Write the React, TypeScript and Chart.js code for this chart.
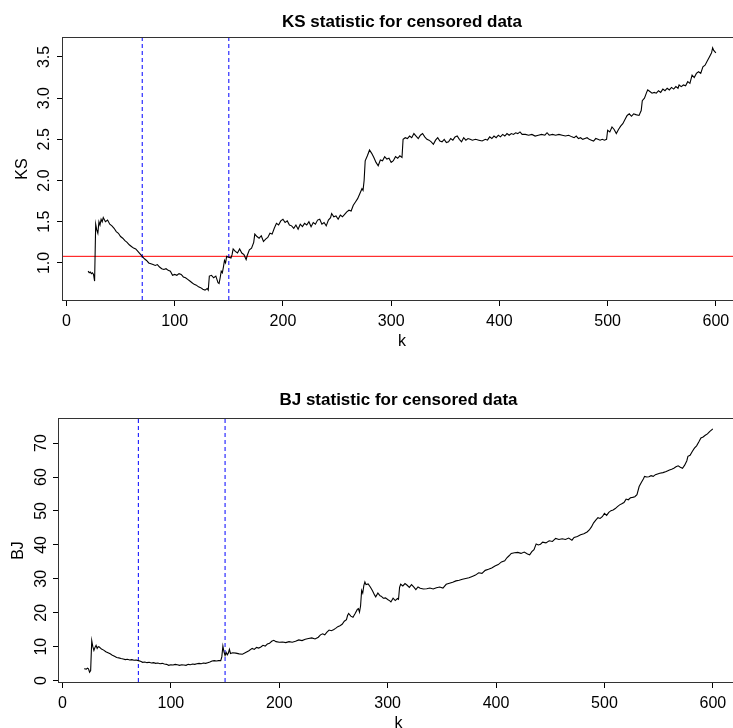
import React, { useEffect, useRef } from "react";
import { Chart, registerables } from "chart.js";

Chart.register(...registerables);

// ---------- data ----------
const kTicks = [0, 100, 200, 300, 400, 500, 600];
const ksTicks = [1.0, 1.5, 2.0, 2.5, 3.0, 3.5];
const bjTicks = [0, 10, 20, 30, 40, 50, 60, 70];
const markerK = [70, 150];
const ksCutoff = 1.08;

const ksSeries: [number, number][] = [
  [20, 0.9], [21, 0.88], [22, 0.89], [23, 0.87], [24, 0.88], [25, 0.86], [26, 0.78], [27, 1.47],
  [28, 1.4], [29, 1.36], [30, 1.5], [31, 1.46], [32, 1.53], [33, 1.5], [34, 1.55], [36, 1.5],
  [38, 1.52], [40, 1.47], [42, 1.45], [44, 1.42], [46, 1.38], [48, 1.36], [50, 1.32], [52, 1.3],
  [54, 1.27], [56, 1.25], [58, 1.22], [60, 1.2], [62, 1.18], [64, 1.17], [66, 1.14], [68, 1.11],
  [70, 1.08], [72, 1.05], [74, 1.03], [76, 1.0], [78, 0.99], [80, 0.98], [82, 0.97], [84, 0.98],
  [86, 0.95], [88, 0.93], [90, 0.92], [92, 0.93], [94, 0.91], [96, 0.9], [98, 0.85], [100, 0.86],
  [102, 0.85], [104, 0.87], [106, 0.86], [108, 0.83], [110, 0.82], [112, 0.8], [114, 0.78], [116, 0.76],
  [118, 0.74], [120, 0.73], [122, 0.71], [124, 0.7], [126, 0.68], [128, 0.67], [130, 0.69], [131, 0.67],
  [132, 0.84], [134, 0.85], [136, 0.82], [138, 0.84], [139, 0.8], [140, 0.76], [141, 0.75], [142, 0.82],
  [143, 0.9], [144, 0.88], [145, 0.95], [146, 1.03], [147, 1.0], [148, 1.08], [150, 1.07], [152, 1.06],
  [153, 1.1], [154, 1.17], [156, 1.14], [158, 1.12], [160, 1.17], [162, 1.12], [164, 1.1], [166, 1.04],
  [167, 1.09], [169, 1.16], [171, 1.18], [173, 1.25], [174, 1.35], [176, 1.32], [178, 1.3], [180, 1.33],
  [182, 1.26], [184, 1.29], [186, 1.31], [188, 1.36], [190, 1.35], [192, 1.42], [194, 1.48], [196, 1.46],
  [198, 1.51], [200, 1.53], [202, 1.49], [204, 1.51], [206, 1.46], [208, 1.45], [210, 1.42], [212, 1.46],
  [214, 1.41], [216, 1.47], [218, 1.44], [220, 1.48], [222, 1.46], [224, 1.5], [226, 1.44], [228, 1.49],
  [230, 1.47], [232, 1.52], [234, 1.53], [236, 1.47], [238, 1.49], [240, 1.45], [242, 1.52], [244, 1.55],
  [245, 1.6], [247, 1.56], [249, 1.57], [251, 1.53], [253, 1.58], [255, 1.56], [257, 1.59], [259, 1.62],
  [261, 1.64], [263, 1.63], [265, 1.7], [267, 1.74], [269, 1.78], [271, 1.84], [273, 1.9], [274, 1.88],
  [275, 2.0], [276, 2.24], [278, 2.3], [280, 2.37], [282, 2.33], [284, 2.28], [286, 2.22], [288, 2.18],
  [290, 2.25], [292, 2.24], [294, 2.29], [296, 2.26], [298, 2.27], [300, 2.22], [302, 2.24], [304, 2.29],
  [306, 2.27], [308, 2.3], [310, 2.28], [311, 2.5], [313, 2.52], [315, 2.51], [317, 2.54], [319, 2.52],
  [321, 2.57], [323, 2.54], [325, 2.51], [327, 2.55], [329, 2.57], [331, 2.53], [333, 2.5], [335, 2.49],
  [337, 2.47], [339, 2.44], [341, 2.49], [343, 2.52], [345, 2.48], [347, 2.47], [349, 2.5], [351, 2.46],
  [353, 2.47], [355, 2.51], [357, 2.49], [359, 2.53], [361, 2.54], [363, 2.5], [365, 2.47], [367, 2.52],
  [369, 2.49], [371, 2.51], [373, 2.5], [375, 2.49], [378, 2.5], [381, 2.49], [384, 2.48], [387, 2.5],
  [389, 2.49], [391, 2.53], [393, 2.51], [395, 2.54], [397, 2.52], [399, 2.55], [401, 2.53], [403, 2.56],
  [405, 2.54], [407, 2.57], [409, 2.55], [411, 2.57], [413, 2.56], [415, 2.58], [417, 2.57], [419, 2.59],
  [421, 2.56], [424, 2.56], [427, 2.55], [430, 2.56], [433, 2.54], [436, 2.55], [439, 2.56], [442, 2.55],
  [444, 2.58], [446, 2.55], [449, 2.56], [452, 2.55], [455, 2.56], [458, 2.55], [461, 2.54], [464, 2.55],
  [467, 2.53], [469, 2.52], [471, 2.54], [473, 2.51], [475, 2.52], [477, 2.5], [479, 2.51], [481, 2.52],
  [483, 2.5], [485, 2.49], [487, 2.48], [489, 2.51], [491, 2.5], [493, 2.49], [495, 2.5], [497, 2.49],
  [499, 2.5], [500, 2.61], [502, 2.59], [504, 2.65], [506, 2.62], [508, 2.57], [510, 2.62], [512, 2.66],
  [514, 2.69], [516, 2.74], [518, 2.79], [520, 2.81], [522, 2.78], [524, 2.81], [526, 2.8], [529, 2.79],
  [531, 2.85], [532, 2.97], [534, 3.0], [536, 3.07], [537, 3.1], [539, 3.08], [541, 3.06], [543, 3.07],
  [545, 3.06], [547, 3.09], [549, 3.07], [551, 3.11], [553, 3.09], [555, 3.12], [557, 3.1], [559, 3.13],
  [561, 3.11], [563, 3.14], [565, 3.12], [566, 3.16], [568, 3.14], [570, 3.16], [572, 3.15], [574, 3.2],
  [576, 3.18], [578, 3.28], [580, 3.25], [582, 3.3], [584, 3.32], [586, 3.3], [588, 3.38], [590, 3.4],
  [592, 3.45], [594, 3.5], [596, 3.55], [597, 3.61], [598, 3.58], [600, 3.55],
];

const bjSeries: [number, number][] = [
  [20, 3.5], [22, 3.4], [23, 3.7], [24, 3.5], [25, 2.5], [26, 3.0], [27, 11.8], [28, 10.0],
  [29, 8.9], [30, 9.8], [31, 10.4], [32, 9.5], [33, 10.0], [34, 9.9], [36, 9.3], [38, 9.0],
  [40, 8.5], [42, 8.2], [44, 7.9], [46, 7.5], [48, 7.2], [50, 6.8], [52, 6.7], [54, 6.5],
  [56, 6.4], [58, 6.2], [60, 6.3], [62, 6.1], [64, 6.2], [66, 6.0], [68, 6.1], [70, 5.9],
  [72, 5.7], [74, 5.4], [76, 5.5], [78, 5.3], [80, 5.4], [82, 5.2], [84, 5.3], [86, 5.1],
  [88, 5.2], [90, 5.0], [92, 5.1], [94, 4.9], [96, 4.8], [98, 4.5], [100, 4.7], [102, 4.6],
  [104, 4.8], [106, 4.7], [108, 4.5], [110, 4.7], [112, 4.6], [114, 4.5], [116, 4.8], [118, 4.7],
  [120, 4.9], [122, 4.8], [124, 5.0], [126, 5.1], [128, 5.0], [130, 5.2], [132, 5.1], [134, 5.3],
  [136, 5.5], [138, 5.8], [140, 5.9], [142, 5.8], [144, 5.9], [146, 5.9], [147, 7.0], [148, 10.2],
  [149, 8.5], [150, 7.4], [151, 8.3], [152, 7.6], [153, 8.1], [154, 9.2], [155, 8.0], [157, 8.2],
  [160, 8.1], [163, 7.9], [166, 7.8], [169, 8.3], [172, 8.8], [175, 9.5], [177, 9.2], [179, 9.8],
  [181, 9.6], [183, 9.9], [185, 10.4], [187, 10.2], [189, 10.8], [191, 11.0], [193, 11.6], [195, 11.9],
  [197, 11.5], [200, 11.3], [203, 11.4], [206, 11.2], [209, 11.5], [212, 11.3], [215, 11.6], [218, 12.0],
  [221, 11.8], [224, 12.2], [227, 12.4], [230, 12.6], [233, 12.3], [236, 12.8], [238, 13.5], [240, 13.8],
  [242, 13.5], [244, 14.3], [246, 14.9], [248, 14.7], [250, 15.0], [252, 15.4], [254, 15.9], [256, 16.2],
  [258, 16.6], [260, 17.5], [262, 18.0], [263, 19.2], [264, 19.8], [266, 19.0], [268, 18.7], [270, 19.8],
  [272, 21.0], [273, 21.2], [274, 20.2], [275, 22.0], [276, 26.6], [277, 25.8], [278, 28.0], [279, 29.1],
  [280, 28.3], [282, 28.5], [284, 27.6], [286, 26.5], [288, 25.2], [289, 24.7], [291, 25.8], [293, 25.0],
  [294, 24.9], [296, 24.3], [298, 24.4], [300, 23.9], [302, 23.5], [303, 23.2], [305, 24.3], [307, 23.6],
  [309, 24.2], [310, 24.0], [311, 27.5], [312, 28.4], [314, 27.9], [316, 28.6], [318, 28.1], [320, 27.5],
  [322, 28.3], [324, 27.6], [326, 26.8], [328, 27.6], [330, 27.2], [333, 27.0], [336, 27.1], [339, 27.3],
  [342, 27.0], [345, 27.4], [348, 27.6], [351, 27.3], [354, 28.4], [357, 28.7], [360, 29.0], [363, 29.4],
  [366, 29.6], [369, 29.9], [372, 30.1], [375, 30.3], [378, 30.7], [381, 31.1], [384, 31.8], [387, 31.6],
  [390, 32.5], [393, 32.8], [396, 33.2], [399, 33.8], [402, 34.2], [405, 35.0], [408, 35.3], [410, 36.2],
  [412, 36.8], [414, 37.5], [417, 37.7], [420, 37.8], [423, 37.5], [426, 37.9], [429, 37.3], [431, 37.1],
  [433, 38.0], [435, 38.6], [437, 40.3], [439, 40.0], [441, 40.2], [443, 40.8], [446, 40.6], [449, 41.2],
  [452, 41.0], [455, 41.9], [458, 41.6], [461, 41.8], [464, 41.6], [467, 42.0], [470, 41.4], [472, 42.2],
  [475, 42.5], [478, 43.0], [481, 43.3], [484, 43.8], [486, 44.4], [488, 45.3], [490, 46.5], [492, 47.3],
  [494, 48.0], [496, 47.8], [498, 48.3], [500, 49.3], [502, 48.7], [504, 49.6], [506, 50.1], [508, 50.3],
  [510, 50.7], [512, 51.3], [514, 51.8], [516, 52.1], [518, 52.5], [520, 53.5], [522, 53.3], [524, 53.9],
  [526, 54.0], [528, 54.2], [530, 54.8], [532, 57.2], [534, 58.4], [536, 59.5], [537, 60.2], [539, 60.0],
  [541, 60.1], [543, 60.4], [545, 60.2], [547, 60.7], [549, 60.9], [551, 61.1], [554, 61.3], [557, 61.6],
  [560, 62.1], [562, 62.3], [564, 62.6], [566, 63.0], [568, 63.3], [570, 62.9], [572, 62.6], [574, 63.5],
  [576, 64.8], [577, 66.1], [579, 66.4], [581, 67.5], [583, 68.5], [585, 69.2], [587, 70.3], [589, 71.5],
  [591, 71.8], [593, 72.3], [595, 72.7], [597, 73.4], [600, 74.2],
];

// ---------- chart helpers ----------
const FONT = "'Liberation Sans', Arial, Helvetica, sans-serif";

type Panel = {
  title: string;
  yTitle: string;
  series: [number, number][];
  yTicks: number[];
  fmt: (v: number) => string;
  xMin: number;
  xMax: number;
  yMin: number;
  yMax: number;
  hline: number | null;
  width: number;
  height: number;
  yAxisW: number;
  xAxisH: number;
  titlePadTop: number;
  titlePadBottom: number;
  yTickPad: number;
  yTitlePad: number;
  xTitlePad: number;
};

const boxPlugin = {
  id: "rbox",
  afterDraw(chart: any) {
    const { ctx, chartArea: a } = chart;
    ctx.save();
    ctx.strokeStyle = "#333";
    ctx.lineWidth = 1;
    const l = Math.round(a.left) - 0.5;
    const t = Math.round(a.top) - 0.5;
    const r = Math.round(a.right) + 0.5;
    const b = Math.round(a.bottom) + 0.5;
    ctx.strokeRect(l, t, r - l, b - t);
    ctx.restore();
  },
};

function makeConfig(p: Panel): any {
  const datasets: any[] = [
    {
      data: p.series.map(([x, y]) => ({ x, y })),
      borderColor: "#000",
      borderWidth: 1.1,
      pointRadius: 0,
      tension: 0,
      fill: false,
    },
  ];
  markerK.forEach((k) => {
    datasets.push({
      data: [
        { x: k, y: p.yMin },
        { x: k, y: p.yMax },
      ],
      borderColor: "#0000ff",
      borderWidth: 1,
      borderDash: [4, 3],
      pointRadius: 0,
      fill: false,
    });
  });
  if (p.hline !== null) {
    datasets.push({
      data: [
        { x: p.xMin, y: p.hline },
        { x: p.xMax, y: p.hline },
      ],
      borderColor: "#ff0000",
      borderWidth: 1,
      pointRadius: 0,
      fill: false,
    });
  }
  const tickFont = { family: FONT, size: 16 };
  return {
    type: "line",
    data: { datasets },
    plugins: [boxPlugin],
    options: {
      animation: false,
      responsive: false,
      devicePixelRatio: 1,
      events: [],
      layout: { padding: { left: 0, right: 4, top: 0, bottom: 0 } },
      plugins: {
        legend: { display: false },
        tooltip: { enabled: false },
        title: {
          display: true,
          text: p.title,
          fullSize: false,
          color: "#000",
          font: { family: FONT, size: 17, weight: "bold", lineHeight: 1.2 },
          padding: { top: p.titlePadTop, bottom: p.titlePadBottom },
        },
      },
      scales: {
        x: {
          type: "linear",
          min: p.xMin,
          max: p.xMax,
          afterBuildTicks: (s: any) => {
            s.ticks = kTicks.map((v) => ({ value: v }));
          },
          afterFit: (s: any) => {
            s.height = p.xAxisH;
          },
          ticks: {
            callback: (v: any) => String(v),
            font: tickFont,
            color: "#000",
            padding: 6,
            maxRotation: 0,
            minRotation: 0,
            autoSkip: false,
          },
          grid: { drawOnChartArea: false, drawTicks: true, tickLength: 6, color: "#000", lineWidth: 1 },
          border: { display: false },
          title: {
            display: true,
            text: "k",
            color: "#000",
            font: { family: FONT, size: 16, lineHeight: 1.2 },
            padding: { top: 0, bottom: p.xTitlePad },
          },
        },
        y: {
          type: "linear",
          min: p.yMin,
          max: p.yMax,
          afterBuildTicks: (s: any) => {
            s.ticks = p.yTicks.map((v) => ({ value: v }));
          },
          afterFit: (s: any) => {
            s.width = p.yAxisW;
          },
          ticks: {
            callback: (v: any) => p.fmt(Number(v)),
            font: tickFont,
            color: "#000",
            padding: p.yTickPad,
            minRotation: 90,
            maxRotation: 90,
            crossAlign: "center",
            autoSkip: false,
          },
          grid: { drawOnChartArea: false, drawTicks: true, tickLength: 6, color: "#000", lineWidth: 1 },
          border: { display: false },
          title: {
            display: true,
            text: p.yTitle,
            color: "#000",
            font: { family: FONT, size: 16, lineHeight: 1.2 },
            padding: { top: p.yTitlePad, bottom: 0 },
          },
        },
      },
    },
  };
}

const ksPanel: Panel = {
  title: "KS statistic for censored data",
  yTitle: "KS",
  series: ksSeries,
  yTicks: ksTicks,
  fmt: (v) => v.toFixed(1),
  xMin: -3.2,
  xMax: 623.2,
  yMin: 0.55,
  yMax: 3.73,
  hline: ksCutoff,
  width: 745,
  height: 364,
  yAxisW: 63,
  xAxisH: 64,
  titlePadTop: 12.3,
  titlePadBottom: 5.3,
  yTickPad: 1,
  yTitlePad: 13,
  xTitlePad: 12.5,
};

const bjPanel: Panel = {
  title: "BJ statistic for censored data",
  yTitle: "BJ",
  series: bjSeries,
  yTicks: bjTicks,
  fmt: (v) => String(v),
  xMin: -3.2,
  xMax: 623.2,
  yMin: -0.4,
  yMax: 77.1,
  hline: null,
  width: 742,
  height: 380,
  yAxisW: 59,
  xAxisH: 62,
  titlePadTop: 25.8,
  titlePadBottom: 8.8,
  yTickPad: 3,
  yTitlePad: 9,
  xTitlePad: 11,
};

function PanelChart({ panel, top }: { panel: Panel; top: number }) {
  const ref = useRef<HTMLCanvasElement | null>(null);
  useEffect(() => {
    if (!ref.current) return;
    const chart = new Chart(ref.current, makeConfig(panel));
    return () => chart.destroy();
  }, [panel]);
  return (
    <canvas
      ref={ref}
      width={panel.width}
      height={panel.height}
      style={{
        position: "absolute",
        left: 0,
        top,
        width: panel.width,
        height: panel.height,
        display: "block",
      }}
    />
  );
}

export default function App() {
  return (
    <div
      style={{
        position: "fixed",
        left: 0,
        top: 0,
        width: 733,
        height: 728,
        overflow: "hidden",
        background: "#fff",
      }}
    >
      <PanelChart panel={ksPanel} top={0} />
      <PanelChart panel={bjPanel} top={364} />
    </div>
  );
}
